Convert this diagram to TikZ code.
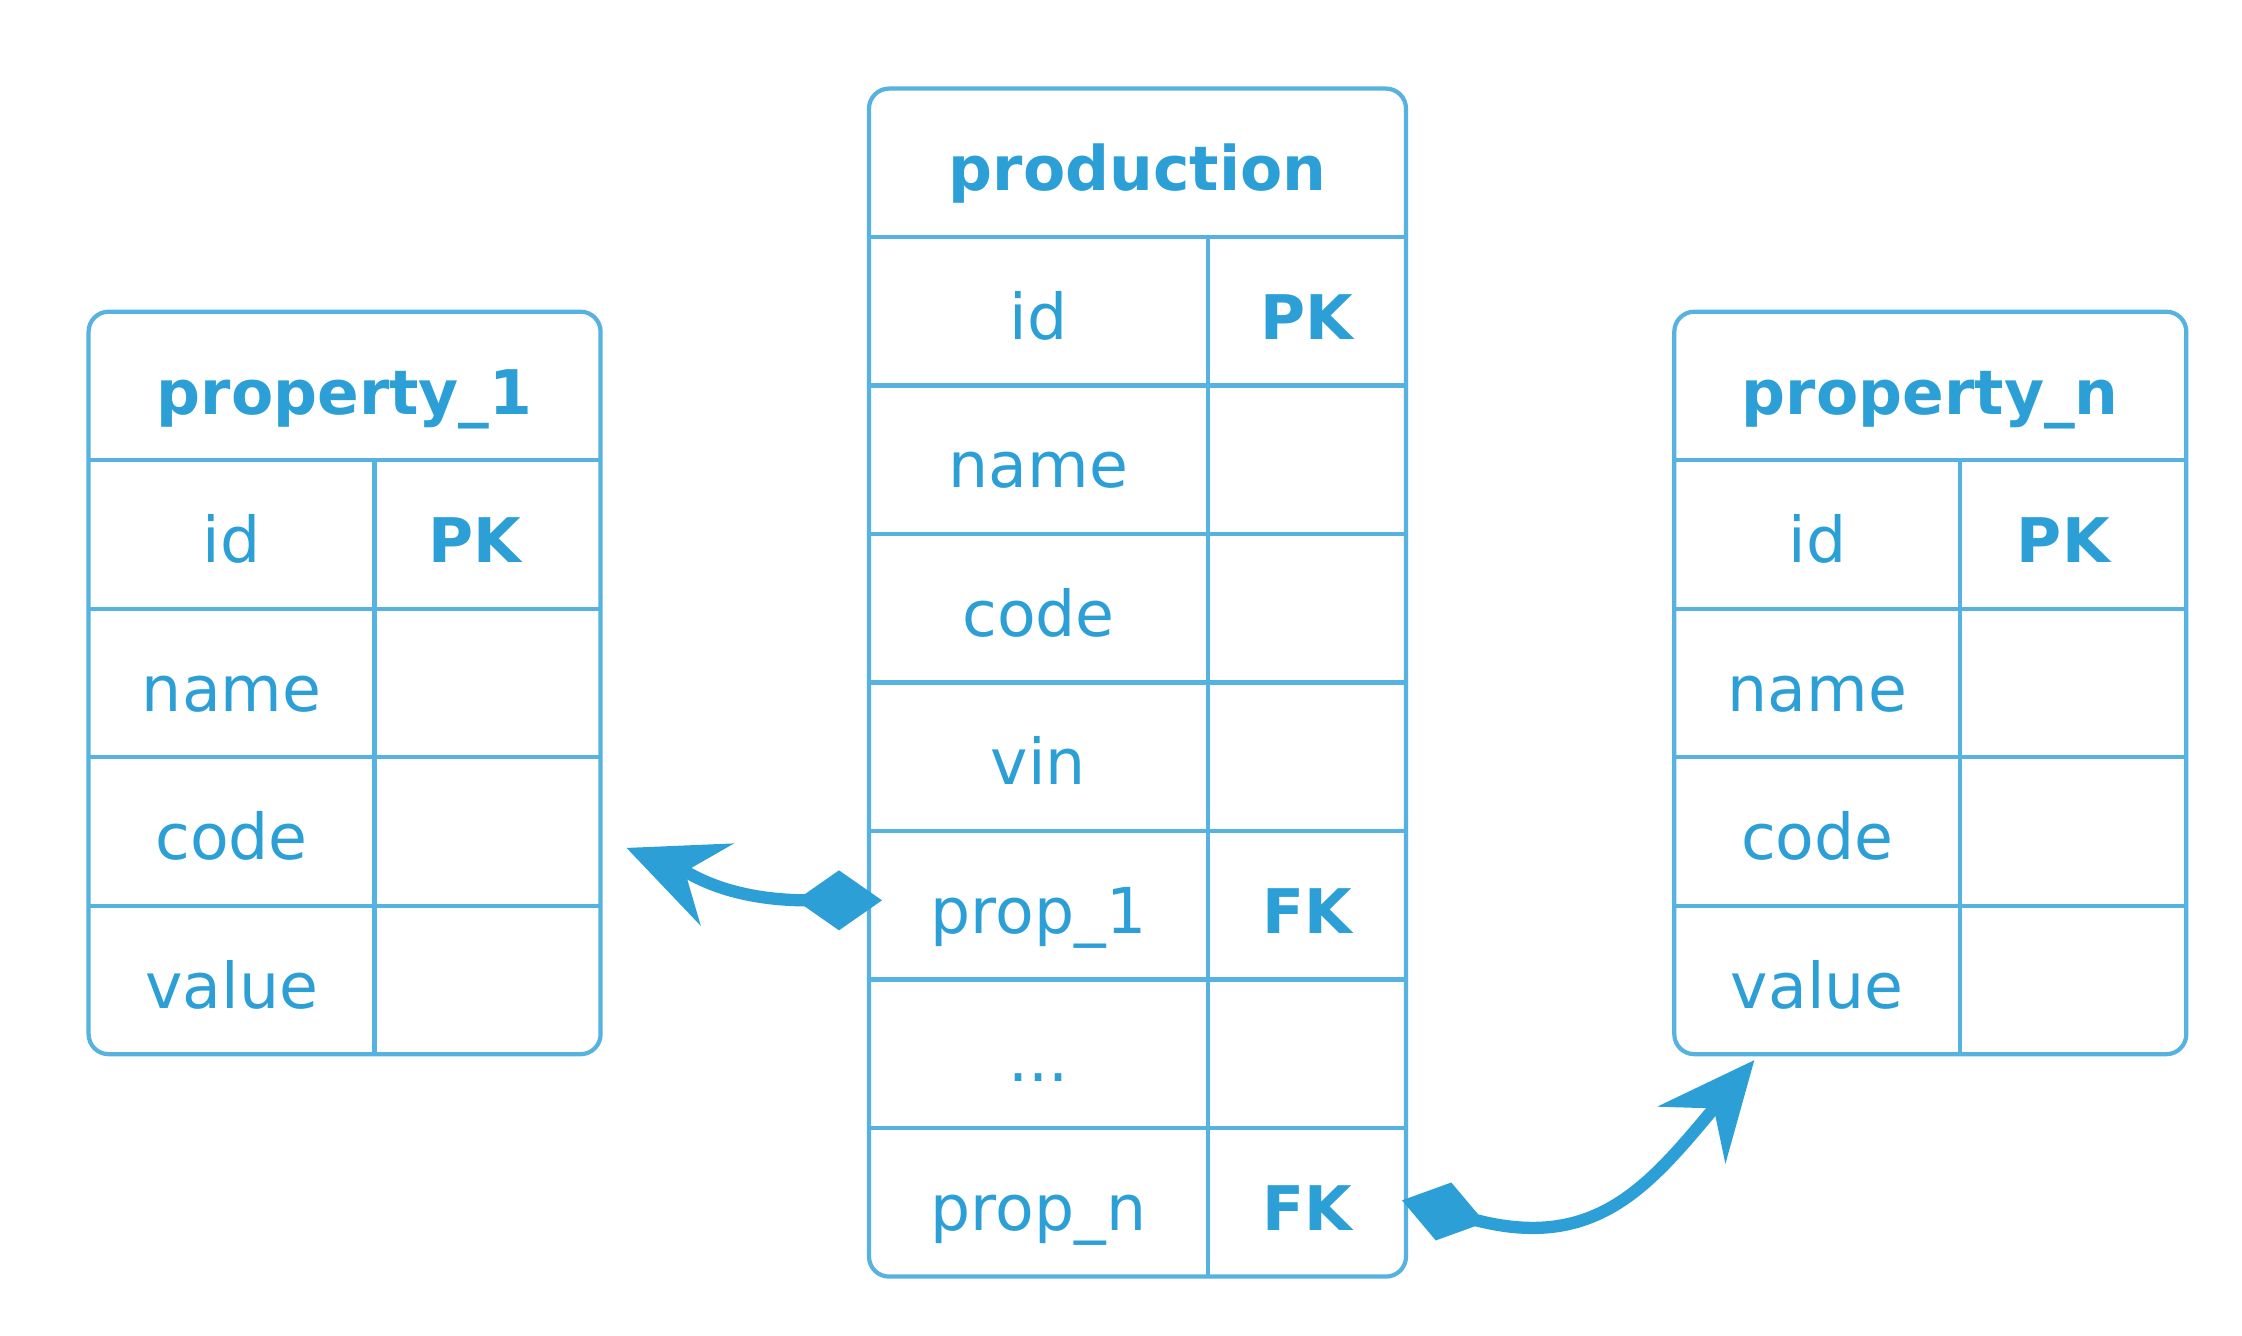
\documentclass[tikz,border=0pt]{standalone}
\usepackage{fontspec}
\setmainfont{DejaVu Sans}
\usetikzlibrary{positioning,arrows.meta}
\definecolor{tblline}{RGB}{86,178,224}
\definecolor{tbltext}{RGB}{43,159,214}
\definecolor{linkblue}{RGB}{44,160,214}

\begin{document}
\begin{tikzpicture}[
  head/.style={minimum height=1.485cm, inner sep=0pt, outer sep=0pt, text height=16pt, text depth=0pt, anchor=north west, text=tbltext, font=\fontsize{17.5}{20}\selectfont\bfseries},
  field/.style={minimum height=1.485cm, inner sep=0pt, outer sep=0pt, text height=16pt, text depth=0pt, text=tbltext, font=\fontsize{18}{20}\selectfont},
  key/.style={field, font=\fontsize{17.5}{20}\selectfont\bfseries},
  colL/.style={field, minimum width=2.86cm},
  colR/.style={key, minimum width=2.26cm},
  pcolL/.style={field, minimum width=3.39cm},
  pcolR/.style={key, minimum width=1.98cm},
  grid/.style={draw=tblline, line width=1.2pt},
  link/.style={draw=linkblue, line width=3.5pt, {Diamond[length=0.86cm, width=0.6cm, line width=0pt]}-{Stealth[length=0.98cm, width=0.89cm, inset=0.35cm, line width=0pt]}}
]
  \useasboundingbox (0,0) rectangle (22.42,13.36);

  % property_1
  \node[head, minimum width=5.12cm] (P1h) at (0.886,10.243) {property\_1};
  \node[colL, below right=0cm and 0cm of P1h.south west] (P1id) {id};
  \node[colR, right=0cm of P1id] (P1idk) {PK\kern0.26cm};
  \node[colL, below=0cm of P1id] (P1name) {name};
  \node[colR, right=0cm of P1name] (P1namek) {};
  \node[colL, below=0cm of P1name] (P1code) {code};
  \node[colR, right=0cm of P1code] (P1codek) {};
  \node[colL, below=0cm of P1code] (P1value) {value};
  \node[colR, right=0cm of P1value] (P1valuek) {};

  % production
  \node[head, minimum width=5.37cm] (Ph) at (8.69,12.474) {production};
  \node[pcolL, below right=0cm and 0cm of Ph.south west] (Pid) {id};
  \node[pcolR, right=0cm of Pid] (Pidk) {PK};
  \node[pcolL, below=0cm of Pid] (Pname) {name};
  \node[pcolR, right=0cm of Pname] (Pnamek) {};
  \node[pcolL, below=0cm of Pname] (Pcode) {code};
  \node[pcolR, right=0cm of Pcode] (Pcodek) {};
  \node[pcolL, below=0cm of Pcode] (Pvin) {vin};
  \node[pcolR, right=0cm of Pvin] (Pvink) {};
  \node[pcolL, below=0cm of Pvin] (Pp1) {prop\_1};
  \node[pcolR, right=0cm of Pp1] (Pp1k) {FK};
  \node[pcolL, below=0cm of Pp1] (Pdots) {...};
  \node[pcolR, right=0cm of Pdots] (Pdotsk) {};
  \node[pcolL, below=0cm of Pdots] (Ppn) {prop\_n};
  \node[pcolR, right=0cm of Ppn] (Ppnk) {FK};

  % property_n
  \node[head, minimum width=5.12cm] (PNh) at (16.743,10.243) {property\_n};
  \node[colL, below right=0cm and 0cm of PNh.south west] (PNid) {id};
  \node[colR, right=0cm of PNid] (PNidk) {PK\kern0.2cm};
  \node[colL, below=0cm of PNid] (PNname) {name};
  \node[colR, right=0cm of PNname] (PNnamek) {};
  \node[colL, below=0cm of PNname] (PNcode) {code};
  \node[colR, right=0cm of PNcode] (PNcodek) {};
  \node[colL, below=0cm of PNcode] (PNvalue) {value};
  \node[colR, right=0cm of PNvalue] (PNvaluek) {};

  % Table frames
  \draw[grid, rounded corners=0.2cm] (P1h.north west) rectangle (P1valuek.south east);
  \draw[grid] (P1id.north west) -- (P1idk.north east);
  \draw[grid] (P1name.north west) -- (P1namek.north east);
  \draw[grid] (P1code.north west) -- (P1codek.north east);
  \draw[grid] (P1value.north west) -- (P1valuek.north east);
  \draw[grid] (P1id.north east) -- (P1value.south east);

  \draw[grid, rounded corners=0.2cm] (Ph.north west) rectangle (Ppnk.south east);
  \draw[grid] (Pid.north west) -- (Pidk.north east);
  \draw[grid] (Pname.north west) -- (Pnamek.north east);
  \draw[grid] (Pcode.north west) -- (Pcodek.north east);
  \draw[grid] (Pvin.north west) -- (Pvink.north east);
  \draw[grid] (Pp1.north west) -- (Pp1k.north east);
  \draw[grid] (Pdots.north west) -- (Pdotsk.north east);
  \draw[grid] (Ppn.north west) -- (Ppnk.north east);
  \draw[grid] (Pid.north east) -- (Ppn.south east);

  \draw[grid, rounded corners=0.2cm] (PNh.north west) rectangle (PNvaluek.south east);
  \draw[grid] (PNid.north west) -- (PNidk.north east);
  \draw[grid] (PNname.north west) -- (PNnamek.north east);
  \draw[grid] (PNcode.north west) -- (PNcodek.north east);
  \draw[grid] (PNvalue.north west) -- (PNvaluek.north east);
  \draw[grid] (PNid.north east) -- (PNvalue.south east);

  % Links
  \draw[link] ([xshift=0.13cm, yshift=0.05cm]Pp1.west) to[out=180, in=-22, out looseness=1.5, in looseness=0.7] ([xshift=0.26cm, yshift=-0.165cm]P1codek.east);
  \draw[link] ([xshift=-0.04cm, yshift=0.02cm]Ppnk.east) to[out=-15, in=-130, out looseness=1.35, in looseness=1.1] ([xshift=0.8cm, yshift=-0.06cm]PNvalue.south west);

\end{tikzpicture}
\end{document}
